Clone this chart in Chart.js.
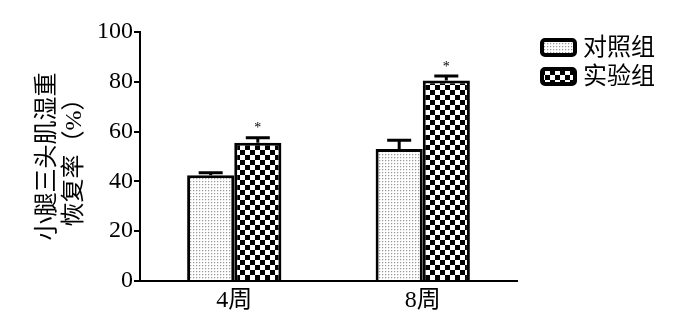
<!DOCTYPE html>
<html>
<head>
<meta charset="utf-8">
<script src="https://cdn.jsdelivr.net/npm/chart.js@4"></script>
<style>
  html, body { margin: 0; padding: 0; background: #fff; }
  #wrap { width: 700px; height: 314px; position: relative; }
</style>
</head>
<body>
<div id="wrap"><canvas id="c"></canvas></div>
<script>
const categories = ['4周', '8周'];
const seriesNames = ['对照组', '实验组'];
const controlValues = [42.5, 53];
const controlErrors = [1, 3.5];
const treatValues = [55.5, 80.5];
const treatErrors = [2, 1.8];
const treatMarks = ['*', '*'];
const yTicks = [0, 20, 40, 60, 80, 100];

const serif = "'Liberation Serif', 'Noto Sans CJK SC', serif";

function dotPattern() {
  const c = document.createElement('canvas');
  c.width = 3; c.height = 3;
  const g = c.getContext('2d');
  g.fillStyle = '#fff';
  g.fillRect(0, 0, 3, 3);
  g.fillStyle = '#999';
  g.fillRect(1, 1, 1, 1);
  g.fillStyle = '#e4e4e4';
  g.fillRect(2, 1, 1, 1);
  g.fillRect(1, 2, 1, 1);
  return g.createPattern(c, 'repeat');
}

function checkPattern() {
  const s = 5;
  const c = document.createElement('canvas');
  c.width = s * 2; c.height = s * 2;
  const g = c.getContext('2d');
  g.fillStyle = '#fff';
  g.fillRect(0, 0, s * 2, s * 2);
  g.fillStyle = '#000';
  g.fillRect(0, 0, s, s);
  g.fillRect(s, s, s, s);
  return g.createPattern(c, 'repeat');
}

const errorBars = {
  id: 'errorBars',
  afterDatasetsDraw(chart) {
    const ctx = chart.ctx;
    const y = chart.scales.y;
    chart.data.datasets.forEach((ds, i) => {
      const meta = chart.getDatasetMeta(i);
      meta.data.forEach((el, j) => {
        const top = y.getPixelForValue(ds.data[j] + ds.errors[j]);
        ctx.save();
        ctx.strokeStyle = '#000';
        ctx.lineWidth = 3;
        ctx.beginPath();
        ctx.moveTo(el.x, el.y);
        ctx.lineTo(el.x, top);
        ctx.moveTo(el.x - 12, top);
        ctx.lineTo(el.x + 12, top);
        ctx.stroke();
        if (ds.marks && ds.marks[j]) {
          ctx.fillStyle = '#000';
          ctx.font = '14px ' + serif;
          ctx.textAlign = 'center';
          ctx.textBaseline = 'middle';
          ctx.fillText(ds.marks[j], el.x, top - 9);
        }
        ctx.restore();
      });
    });
  }
};

const sideLegend = {
  id: 'sideLegend',
  afterDraw(chart) {
    const ctx = chart.ctx;
    chart.data.datasets.forEach((ds, i) => {
      const bx = 542, by = 40 + i * 29, bw = 33, bh = 15;
      ctx.save();
      ctx.fillStyle = ds.backgroundColor;
      ctx.strokeStyle = '#000';
      ctx.lineWidth = 4;
      ctx.beginPath();
      ctx.roundRect(bx, by, bw, bh, 3);
      ctx.fill();
      ctx.stroke();
      ctx.fillStyle = '#000';
      ctx.font = '24px ' + serif;
      ctx.textAlign = 'left';
      ctx.textBaseline = 'middle';
      ctx.fillText(ds.label, 583, by + bh / 2 + 1);
      ctx.restore();
    });
  }
};

new Chart(document.getElementById('c'), {
  type: 'bar',
  data: {
    labels: categories,
    datasets: [
      { label: seriesNames[0], data: controlValues, errors: controlErrors, backgroundColor: dotPattern() },
      { label: seriesNames[1], data: treatValues, errors: treatErrors, marks: treatMarks, backgroundColor: checkPattern() }
    ]
  },
  options: {
    responsive: true,
    maintainAspectRatio: false,
    animation: false,
    layout: { padding: { left: 35, right: 183, top: 32, bottom: 0 } },
    datasets: {
      bar: {
        borderColor: '#000',
        borderWidth: { top: 3, left: 3, right: 3, bottom: 0 },
        categoryPercentage: 0.5,
        barPercentage: 1
      }
    },
    plugins: {
      legend: { display: false },
      tooltip: { enabled: false }
    },
    scales: {
      x: {
        grid: { display: false, drawTicks: false },
        border: { display: true, color: '#000', width: 2 },
        ticks: { color: '#000', padding: 5, font: { family: serif, size: 24 } },
        afterFit: s => { s.height = 33; }
      },
      y: {
        min: 0,
        max: 100,
        afterBuildTicks: s => { s.ticks = yTicks.map(v => ({ value: v })); },
        grid: { drawOnChartArea: false, drawTicks: true, tickLength: 6, color: '#000', lineWidth: 2 },
        border: { display: true, color: '#000', width: 2 },
        ticks: { color: '#000', padding: 1, font: { family: serif, size: 24 } },
        title: {
          display: true,
          text: ['小腿三头肌湿重', '恢复率（%）'],
          color: '#000',
          font: { family: serif, size: 24, lineHeight: 1.1 },
          padding: 0
        },
        afterFit: s => { s.width = 105; }
      }
    }
  },
  plugins: [errorBars, sideLegend]
});
</script>
</body>
</html>
